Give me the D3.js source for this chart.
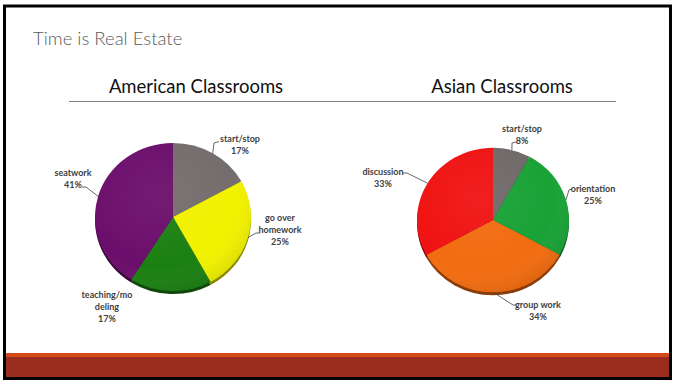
<!DOCTYPE html>
<html>
<head>
<meta charset="utf-8">
<script src="https://cdn.jsdelivr.net/npm/d3@7"></script>
<style>
  body { margin: 0; background: #fff; }
  svg { display: block; }
</style>
</head>
<body>
<div id="chart"></div>
<script>
// data
const americanCats = ["start/stop", "go over homework", "teaching/modeling", "seatwork"];
const americanVals = [17, 25, 17, 41];
const americanLabels = [["start/stop", "17%"], ["go over", "homework", "25%"], ["teaching/mo", "deling", "17%"], ["seatwork", "41%"]];

const asianCats = ["start/stop", "orientation", "group work", "discussion"];
const asianVals = [8, 25, 34, 33];
const asianLabels = [["start/stop", "8%"], ["orientation", "25%"], ["group work", "34%"], ["discussion", "33%"]];

const americanColors = ["#736d6d", "#f1f100", "#1b8012", "#6b0e6b"];
const asianColors = ["#6f6969", "#19a236", "#f26c10", "#f01212"];

const width = 673;
const height = 380;

const svg = d3.select("#chart")
  .append("svg")
  .attr("width", width)
  .attr("height", height);

svg.append("rect").attr("width", width).attr("height", height).attr("fill", "#fff");

// bottom band
svg.append("rect").attr("x", 4).attr("y", 353).attr("width", 666).attr("height", 4).attr("fill", "#d24b17");
svg.append("rect").attr("x", 4).attr("y", 357).attr("width", 666).attr("height", 21).attr("fill", "#9b2d1f");

// frame
svg.append("rect")
  .attr("x", 4.5).attr("y", 6)
  .attr("width", 666).attr("height", 372.5)
  .attr("fill", "none")
  .attr("stroke", "#000")
  .attr("stroke-width", 3);

// title
svg.append("text")
  .attr("x", 33).attr("y", 45)
  .style("font-family", "Lato, 'Open Sans', sans-serif")
  .style("font-weight", 300)
  .style("font-size", "18.5px")
  .attr("fill", "#595959")
  .text("Time is Real Estate");

// headings
svg.append("text")
  .attr("x", 196).attr("y", 93)
  .attr("text-anchor", "middle")
  .style("font-family", "Lato, 'Open Sans', sans-serif")
  .style("font-size", "18.5px")
  .attr("fill", "#111")
  .text("American Classrooms");

svg.append("text")
  .attr("x", 502).attr("y", 93)
  .attr("text-anchor", "middle")
  .style("font-family", "Lato, 'Open Sans', sans-serif")
  .style("font-size", "18.5px")
  .attr("fill", "#111")
  .text("Asian Classrooms");

svg.append("line")
  .attr("x1", 69).attr("x2", 616)
  .attr("y1", 101.5).attr("y2", 101.5)
  .attr("stroke", "#7f7f7f")
  .attr("stroke-width", 1);

// gloss gradient
const defs = svg.append("defs");
const grad = defs.append("radialGradient")
  .attr("id", "gloss")
  .attr("cx", "40%").attr("cy", "35%").attr("r", "70%");
grad.append("stop").attr("offset", "0%").attr("stop-color", "#fff").attr("stop-opacity", 0.06);
grad.append("stop").attr("offset", "70%").attr("stop-color", "#fff").attr("stop-opacity", 0);
grad.append("stop").attr("offset", "100%").attr("stop-color", "#000").attr("stop-opacity", 0.1);

function drawPie(cfg) {
  const pie = d3.pie().sort(null).value(d => d.value);
  const arcs = pie(cfg.cats.map((c, i) => ({ cat: c, value: cfg.vals[i], label: cfg.labels[i] })));
  const arc = d3.arc().innerRadius(0).outerRadius(cfg.r);
  const sy = 0.95;

  // shadow / 3D edge
  const sh = svg.append("g")
    .attr("transform", `translate(${cfg.cx},${cfg.cy + 3}) scale(1,${sy})`);
  sh.selectAll("path")
    .data(arcs)
    .join("path")
    .attr("d", arc)
    .attr("fill", (d, i) => d3.color(cfg.colors[i]).darker(1.6));

  const g = svg.append("g")
    .attr("transform", `translate(${cfg.cx},${cfg.cy}) scale(1,${sy})`);
  g.selectAll("path")
    .data(arcs)
    .join("path")
    .attr("d", arc)
    .attr("fill", (d, i) => cfg.colors[i]);

  g.append("circle").attr("r", cfg.r).attr("fill", "url(#gloss)");

  // labels
  arcs.forEach((d, i) => {
    const lay = cfg.layout[i];
    const t = svg.append("text")
      .attr("text-anchor", "middle")
      .style("font-family", "Lato, 'Liberation Sans', sans-serif")
      .style("font-weight", 700)
      .style("font-size", "9px")
      .attr("fill", "#404040");
    d.data.label.forEach((ln, k) => {
      t.append("tspan").attr("x", lay.x).attr("y", lay.y + k * 12).text(ln);
    });
    if (lay.leader) {
      const a = (d.startAngle + d.endAngle) / 2;
      const ex = cfg.cx + cfg.r * Math.sin(a);
      const ey = cfg.cy - cfg.r * sy * Math.cos(a);
      svg.append("path")
        .attr("d", d3.line()([[ex, ey], ...lay.leader]))
        .attr("fill", "none")
        .attr("stroke", "#404040")
        .attr("stroke-width", 0.8);
    }
  });
}

drawPie({
  cx: 173, cy: 217, r: 78,
  cats: americanCats, vals: americanVals, labels: americanLabels, colors: americanColors,
  layout: [
    { x: 240, y: 142, leader: [[214, 143], [219, 141.5]] },
    { x: 280, y: 221, leader: [[256, 233], [260, 233]] },
    { x: 107, y: 298 },
    { x: 73, y: 176, leader: [[86, 187], [82, 187]] }
  ]
});

drawPie({
  cx: 493, cy: 220, r: 76,
  cats: asianCats, vals: asianVals, labels: asianLabels, colors: asianColors,
  layout: [
    { x: 522, y: 132, leader: [[512, 143], [516, 142]] },
    { x: 593, y: 192, leader: [[569, 190], [572, 189]] },
    { x: 538, y: 308, leader: [[513, 305], [517, 305]] },
    { x: 383, y: 175, leader: [[407, 173], [403, 173]] }
  ]
});
</script>
</body>
</html>
